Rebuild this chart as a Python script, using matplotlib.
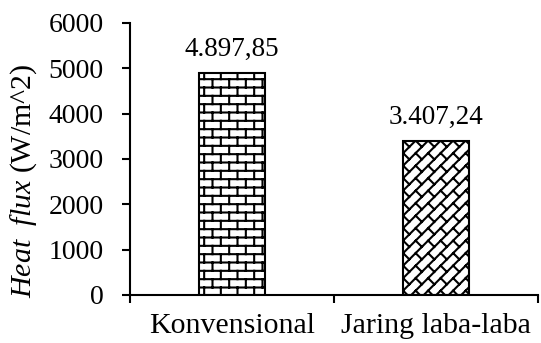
import warnings
import numpy as np
import matplotlib
matplotlib.use('Agg')
import matplotlib.pyplot as plt
from matplotlib import hatch as mhatch
from matplotlib.path import Path

warnings.filterwarnings('ignore')

# Heat flux for the two plate configurations
categories = ['Konvensional', 'Jaring laba-laba']
heat_flux = [4897.85, 3407.24]
yticks = [0, 1000, 2000, 3000, 4000, 5000, 6000]


def clip_seg(p, q):
    # Liang-Barsky clip of a segment to the unit hatch tile
    x0, y0 = p
    dx, dy = q[0] - x0, q[1] - y0
    t0, t1 = 0.0, 1.0
    for pi, qi in ((-dx, x0), (dx, 1 - x0), (-dy, y0), (dy, 1 - y0)):
        if pi == 0:
            if qi < 0:
                return None
        else:
            r = qi / pi
            if pi < 0:
                t0 = max(t0, r)
            else:
                t1 = min(t1, r)
    if t0 >= t1:
        return None
    return [(x0 + t0 * dx, y0 + t0 * dy), (x0 + t1 * dx, y0 + t1 * dy)]


def brick_segments(rows=12, cols=6):
    segs = []
    h = 1.0 / rows
    for k in range(-1, rows + 1):
        y0 = (k + 0.5) * h
        segs.append(((-0.2, y0), (1.2, y0)))
        for j in range(-1, cols + 2):
            x = (j + 0.25 + 0.5 * (k % 2)) / cols
            segs.append(((x, y0), (x, y0 + h)))
    return segs


def diag_brick_segments(n=8, k=4):
    # "/" courses with short "\" joints, staggered by half a brick
    segs = []
    d = 0.5 / n
    for m in range(-2 * n, 2 * n):
        c = (m + 0.5) / n
        segs.append(((-1.0, -1.0 + c), (2.0, 2.0 + c)))
        cn = c + 1.0 / n
        for j in range(-3 * k, 4 * k):
            s = (j + 0.5 * (m % 2)) / k
            x0 = (s - cn) / 2
            y0 = x0 + cn
            segs.append(((x0, y0), (x0 + d, y0 - d)))
    return segs


class SegmentHatch(mhatch.HatchPatternBase):
    char = ''
    raw = []

    def __init__(self, hatch, density):
        self.segs = []
        if hatch is not None and self.char in hatch:
            for p, q in self.raw:
                s = clip_seg(p, q)
                if s is not None:
                    self.segs.append(s)
        self.num_vertices = 2 * len(self.segs)

    def set_vertices_and_codes(self, vertices, codes):
        vertices[:] = np.array(self.segs).reshape(-1, 2)
        codes[0::2] = Path.MOVETO
        codes[1::2] = Path.LINETO


class BrickHatch(SegmentHatch):
    char = 'b'
    raw = brick_segments()


class DiagBrickHatch(SegmentHatch):
    char = 'w'
    raw = diag_brick_segments()


mhatch._hatch_types.extend([BrickHatch, DiagBrickHatch])

plt.rcParams['font.family'] = 'Liberation Serif'
plt.rcParams['mathtext.fontset'] = 'custom'
plt.rcParams['mathtext.rm'] = 'Liberation Serif'
plt.rcParams['mathtext.it'] = 'Liberation Serif:italic'
plt.rcParams['hatch.linewidth'] = 1.5
plt.rcParams['hatch.color'] = 'black'

fig = plt.figure(figsize=(5.41, 3.43), dpi=100)
ax = fig.add_axes([130 / 541, 48 / 343, 408 / 541, 272 / 343])

x = np.arange(len(categories))
bars = ax.bar(x, heat_flux, width=0.32, color='white', edgecolor='black',
              linewidth=1.5, hatch='b')
bars[1].set_hatch('w')

labels = [f'{v:,.2f}'.replace(',', ' ').replace('.', ',').replace(' ', '.')
          for v in heat_flux]
ax.bar_label(bars, labels=labels, padding=8, fontsize=19.5)

ax.set_xlim(-0.5, 1.5)
ax.set_ylim(0, 6000)
ax.set_yticks(yticks)
ax.tick_params(axis='y', labelsize=20, length=6, width=1.5, pad=13)

ax.set_xticks(x, categories)
ax.set_xticks([-0.5, 0.5, 1.5], minor=True)
ax.tick_params(axis='x', which='major', length=0, labelsize=21.5, pad=13)
ax.tick_params(axis='x', which='minor', length=6, width=1.5)

for side in ('top', 'right'):
    ax.spines[side].set_visible(False)
for side in ('left', 'bottom'):
    ax.spines[side].set_linewidth(1.5)

fig.text(24 / 541, 1 - 181 / 343, r'$\mathit{Heat\ \ flux}$ (W/m^2)',
         rotation=90, ha='center', va='center', fontsize=21.5)

fig.savefig('out.png', dpi=100)
